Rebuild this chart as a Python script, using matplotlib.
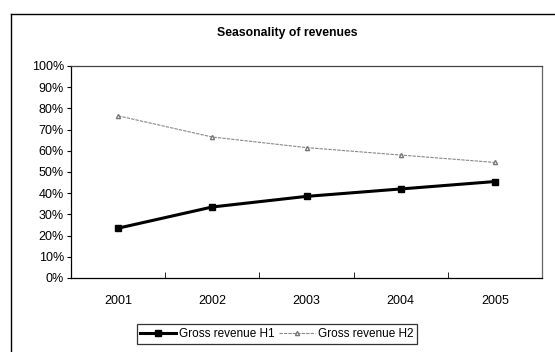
import numpy as np
import matplotlib.pyplot as plt
from matplotlib.ticker import PercentFormatter

plt.rcParams['font.family'] = ['Liberation Sans', 'DejaVu Sans']

years = ['2001', '2002', '2003', '2004', '2005']
h1 = [23.5, 33.5, 38.5, 42.0, 45.5]
h2 = [76.5, 66.5, 61.5, 58.0, 54.5]

fig = plt.figure(figsize=(5.55, 3.52), dpi=100)
# outer chart frame (top and left edges only visible in the scan)
fig.add_artist(plt.Line2D([11/555, 1], [1 - 14/352] * 2, color='black', lw=1.0))
fig.add_artist(plt.Line2D([11/555] * 2, [0, 1 - 14/352], color='black', lw=1.0))

ax = fig.add_axes([71/555, 1 - 278/352, 471/555, 212/352])
x = np.arange(len(years))
ax.plot(x, h1, color='black', lw=2.2, marker='s', ms=5, label='Gross revenue H1')
ax.plot(x, h2, color='#888888', lw=0.8, ls='--', dashes=(3, 1),
        marker='^', ms=3, mfc='white', mec='#777777', label='Gross revenue H2')

ax.set_xlim(-0.5, len(years) - 0.5)
ax.set_ylim(0, 100)
ax.set_yticks(np.arange(0, 101, 10))
ax.yaxis.set_major_formatter(PercentFormatter(decimals=0))
ax.set_xticks(x)
ax.set_xticklabels(years)
ax.set_xticks(np.arange(-0.5, len(years), 1), minor=True)
ax.tick_params(axis='x', which='major', length=0, pad=12, labelsize=9)
ax.tick_params(axis='x', which='minor', length=4, direction='in')
ax.tick_params(axis='y', length=3, direction='out', labelsize=9, pad=2)
for s in ax.spines.values():
    s.set_linewidth(0.9)
ax.spines['top'].set_color('#444444')
ax.spines['right'].set_color('#666666')

fig.text(287/555, 1 - 33/352, 'Seasonality of revenues', ha='center', va='center',
         fontsize=8.8, fontweight='bold')

leg = fig.legend(loc='center', bbox_to_anchor=(277/555, 1 - 334/352), ncol=2,
                 fontsize=8.5, frameon=True, fancybox=False, edgecolor='black',
                 handlelength=3.0, handletextpad=0.3, columnspacing=0.4,
                 borderpad=0.3, borderaxespad=0)
leg.get_frame().set_linewidth(0.9)

fig.savefig('out.png', dpi=100)
